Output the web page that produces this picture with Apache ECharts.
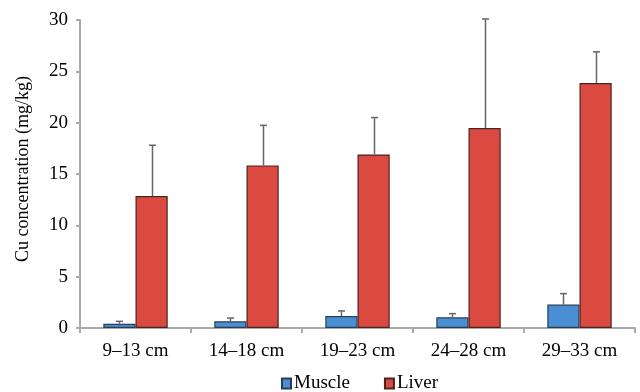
<!DOCTYPE html>
<html>
<head>
<meta charset="utf-8">
<script src="https://cdn.jsdelivr.net/npm/echarts@6/dist/echarts.min.js"></script>
<style>
  html, body { margin: 0; padding: 0; background: #fff; }
  #main { width: 640px; height: 392px; }
</style>
</head>
<body>
<div id="main"></div>
<script>
// data
const sizes = ['9–13 cm', '14–18 cm', '19–23 cm', '24–28 cm', '29–33 cm'];
const muscle = [0.42, 0.65, 1.17, 1.04, 2.28];
const muscleTop = [0.65, 0.97, 1.66, 1.4, 3.35];
const liver = [12.85, 15.84, 16.9, 19.47, 23.86];
const liverTop = [17.8, 19.74, 20.5, 30.1, 26.9];

const FONT = '"Liberation Serif", "DejaVu Serif", serif';
const GAP = 0.42; // barCategoryGap

const myChart = echarts.init(document.getElementById('main'));

// error bar: side -1 = muscle (left), +1 = liver (right)
function errRender(side) {
  return function (params, api) {
    const idx = api.value(0);
    const lo = api.coord([idx, api.value(1)]);
    const hi = api.coord([idx, api.value(2)]);
    const band = api.size([1, 0])[0];
    const bw = band * (1 - GAP) / 2;
    const x = Math.round(lo[0] + side * bw / 2) + 0.5;
    const style = { stroke: '#666', lineWidth: 1.5 };
    return {
      type: 'group',
      children: [
        { type: 'line', shape: { x1: x, y1: lo[1], x2: x, y2: hi[1] }, style: style },
        { type: 'line', shape: { x1: x - 3.5, y1: hi[1], x2: x + 3.5, y2: hi[1] }, style: style },
      ],
    };
  };
}

myChart.setOption({
  animation: false,
  grid: { left: 80, right: 5, top: 20, bottom: 64 },
  legend: {
    top: 369,
    left: 276,
    itemWidth: 9,
    itemHeight: 10,
    itemGap: 34,
    icon: 'rect',
    data: ['Muscle', 'Liver'],
    textStyle: { fontFamily: FONT, fontSize: 19, color: '#000', padding: [0, 0, 0, -2] },
  },
  xAxis: {
    type: 'category',
    data: sizes,
    axisLine: { lineStyle: { color: '#aaa', width: 2 } },
    axisTick: { show: true, length: 5, lineStyle: { color: '#aaa', width: 2 } },
    axisLabel: { fontFamily: FONT, fontSize: 19, color: '#000', margin: 14 },
  },
  yAxis: {
    type: 'value',
    min: 0,
    max: 30,
    interval: 5,
    name: 'Cu concentration (mg/kg)',
    nameLocation: 'middle',
    nameGap: 48,
    nameTextStyle: { fontFamily: FONT, fontSize: 18, color: '#000', padding: [0, 0, 0, 10] },
    axisLine: { show: true, lineStyle: { color: '#aaa', width: 2 } },
    axisTick: { show: true, length: 4, lineStyle: { color: '#aaa', width: 2 } },
    splitLine: { show: false },
    axisLabel: { fontFamily: FONT, fontSize: 19, color: '#000', margin: 12 },
  },
  series: [
    {
      name: 'Muscle',
      type: 'bar',
      data: muscle,
      barGap: '0%',
      barCategoryGap: '42%',
      itemStyle: { color: '#4a8fd4', borderColor: '#2c3e55', borderWidth: 1.2 },
    },
    {
      name: 'Liver',
      type: 'bar',
      data: liver,
      itemStyle: { color: '#db4a40', borderColor: '#4a2420', borderWidth: 1.2 },
    },
    {
      type: 'custom',
      renderItem: errRender(-1),
      data: muscle.map((v, i) => [i, v, muscleTop[i]]),
      z: 3,
    },
    {
      type: 'custom',
      renderItem: errRender(1),
      data: liver.map((v, i) => [i, v, liverTop[i]]),
      z: 3,
    },
  ],
});
</script>
</body>
</html>
